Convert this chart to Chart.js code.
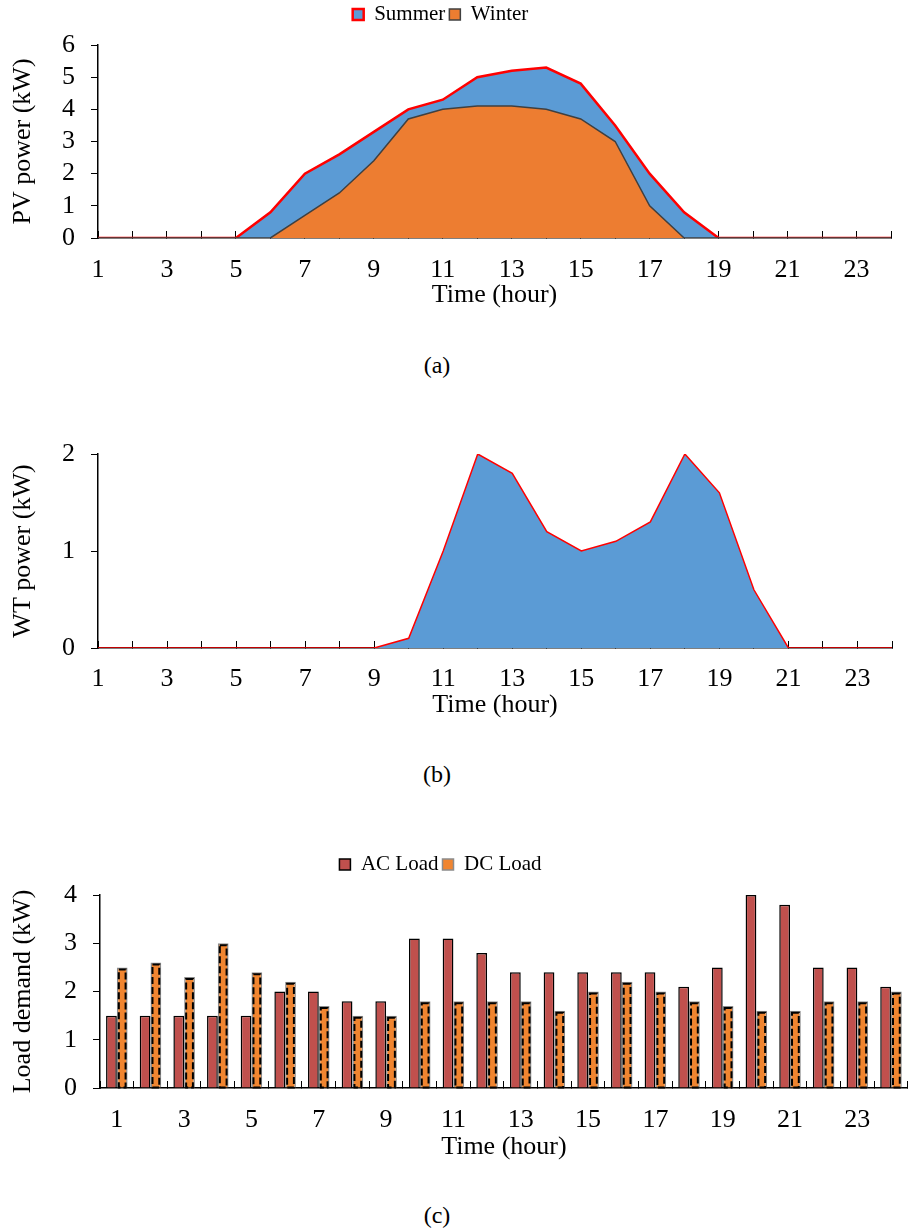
<!DOCTYPE html>
<html>
<head>
<meta charset="utf-8">
<script src="https://cdn.jsdelivr.net/npm/chart.js@4.4.1/dist/chart.umd.min.js"></script>
<style>
  body { margin: 0; background: #fff; }
  #page { position: relative; width: 915px; height: 1231px; overflow: hidden; }
  .box { position: absolute; left: 0; width: 915px; }
  .cap { position: absolute; font: 24px "Liberation Serif"; transform: translate(-50%, -50%); }
</style>
</head>
<body>
<div id="page">
  <div class="box" style="top:0;height:320px"><canvas id="pv"></canvas></div>
  <div class="cap" style="left:437px;top:365px">(a)</div>
  <div class="box" style="top:420px;height:310px"><canvas id="wt"></canvas></div>
  <div class="cap" style="left:437px;top:774px">(b)</div>
  <div class="box" style="top:840px;height:335px"><canvas id="load"></canvas></div>
  <div class="cap" style="left:437px;top:1215px">(c)</div>
</div>
<script>
const hours = ['1','2','3','4','5','6','7','8','9','10','11','12','13','14','15','16','17','18','19','20','21','22','23','24']

const pvSummer = [0, 0, 0, 0, 0, 0.8, 2.0, 2.6, 3.3, 4.0, 4.3, 5.0, 5.2, 5.3, 4.8, 3.5, 2.0, 0.8, 0, 0, 0, 0, 0, 0]
const pvWinter = [0, 0, 0, 0, 0, 0, 0.7, 1.4, 2.4, 3.7, 4.0, 4.1, 4.1, 4.0, 3.7, 3.0, 1.0, 0, 0, 0, 0, 0, 0, 0]

const wtPower = [0, 0, 0, 0, 0, 0, 0, 0, 0, 0.1, 1.0, 2.0, 1.8, 1.2, 1.0, 1.1, 1.3, 2.0, 1.6, 0.6, 0, 0, 0, 0]

const acLoad = [1.5, 1.5, 1.5, 1.5, 1.5, 2.0, 2.0, 1.8, 1.8, 3.1, 3.1, 2.8, 2.4, 2.4, 2.4, 2.4, 2.4, 2.1, 2.5, 4.0, 3.8, 2.5, 2.5, 2.1]
const dcLoad = [2.5, 2.6, 2.3, 3.0, 2.4, 2.2, 1.7, 1.5, 1.5, 1.8, 1.8, 1.8, 1.8, 1.6, 2.0, 2.2, 2.0, 1.8, 1.7, 1.6, 1.6, 1.8, 1.8, 2.0]

Chart.defaults.font.family = '"Liberation Serif", serif'
Chart.defaults.color = '#000'

// x axis: labels on odd hours, short ticks pointing up into the plot
const xAxis = (height, tickPad, titlePad) => ({
    grid: { drawOnChartArea: false, color: '#000', tickLength: -7, lineWidth: 1 },
    border: { color: '#000', width: 1.5 },
    ticks: {
        autoSkip: false, maxRotation: 0, padding: tickPad,
        font: { size: 26 },
        callback: function (v, i) { return i % 2 === 0 ? this.getLabelForValue(v) : '' }
    },
    title: { display: true, text: 'Time (hour)', font: { size: 26 }, padding: { top: 0, bottom: titlePad } },
    afterFit: s => { s.height = height }
})

const yAxis = (max, title, width) => ({
    min: 0, max: max,
    grid: { drawOnChartArea: false, color: '#000', tickLength: 7 },
    border: { color: '#000', width: 1.5 },
    ticks: { stepSize: 1, autoSkip: false, padding: 16, font: { size: 26 } },
    title: { display: true, text: title, font: { size: 26 }, padding: { top: 8, bottom: 0 } },
    afterFit: s => { s.width = width }
})

// fixed legend block height and a small nudge to the left
const legendBox = (h, shift) => ({
    id: 'legendBox',
    beforeLayout(chart) {
        const lg = chart.legend
        if (!lg || lg._fixed) return
        const fit = lg.fit
        lg.fit = function () { fit.call(this); this.height = h }
        lg._fixed = true
    },
    afterLayout(chart) {
        chart.legend.left -= shift
        chart.legend.right -= shift
    }
})

const legendOpts = (pad) => ({
    position: 'top',
    labels: { boxWidth: 11, boxHeight: 11, padding: pad, font: { size: 21 }, color: '#000' }
})

new Chart(document.getElementById('pv'), {
    type: 'line',
    data: {
        labels: hours,
        datasets: [
            {
                label: 'Winter', data: pvWinter, fill: 'origin',
                backgroundColor: '#ED7D31', borderColor: '#404040', borderWidth: 1.5,
                pointRadius: 0, tension: 0
            },
            {
                label: 'Summer', data: pvSummer, fill: 'origin',
                backgroundColor: '#5B9BD5', borderColor: '#FF0000', borderWidth: 2.5,
                pointRadius: 0, tension: 0
            }
        ]
    },
    options: {
        responsive: true, maintainAspectRatio: false, animation: false,
        layout: { padding: { top: 0, right: 0, left: 0, bottom: 0 } },
        plugins: {
            legend: Object.assign(legendOpts(4), { reverse: true }),
            tooltip: { enabled: false }
        },
        scales: {
            x: xAxis(82, 24, 9),
            y: yAxis(6, 'PV power (kW)', 98)
        }
    },
    plugins: [legendBox(45, 17)]
})

new Chart(document.getElementById('wt'), {
    type: 'line',
    data: {
        labels: hours,
        datasets: [{
            label: 'WT', data: wtPower, fill: 'origin',
            backgroundColor: '#5B9BD5', borderColor: '#FF0000', borderWidth: 1.5,
            pointRadius: 0, tension: 0
        }]
    },
    options: {
        responsive: true, maintainAspectRatio: false, animation: false,
        layout: { padding: { top: 34, right: 0, left: 0, bottom: 0 } },
        plugins: { legend: { display: false }, tooltip: { enabled: false } },
        scales: {
            x: xAxis(82, 23, 9),
            y: yAxis(2, 'WT power (kW)', 98)
        }
    }
})

// dashed outline over the DC bars
const dashedBars = {
    id: 'dashedBars',
    afterDatasetDraw(chart, args) {
        if (args.index !== 1) return
        const ctx = chart.ctx
        ctx.save()
        ctx.strokeStyle = '#000'
        ctx.lineWidth = 2
        ctx.setLineDash([7, 3])
        args.meta.data.forEach(bar => {
            const p = bar.getProps(['x', 'y', 'base', 'width'], true)
            ctx.strokeRect(p.x - p.width / 2 + 2, p.y + 2, p.width - 4, p.base - p.y - 2)
        })
        ctx.restore()
    }
}

const loadX = xAxis(87, 24, 12)
loadX.grid.offset = true

new Chart(document.getElementById('load'), {
    type: 'bar',
    data: {
        labels: hours,
        datasets: [
            {
                label: 'AC Load', data: acLoad,
                backgroundColor: '#C0504D', borderColor: '#000', borderWidth: 1.5,
                categoryPercentage: 0.64, barPercentage: 1
            },
            {
                label: 'DC Load', data: dcLoad,
                backgroundColor: '#F08530', borderColor: '#8c8c8c', borderWidth: 1.5,
                categoryPercentage: 0.64, barPercentage: 1
            }
        ]
    },
    options: {
        responsive: true, maintainAspectRatio: false, animation: false,
        layout: { padding: { top: 10, right: 0, left: 0, bottom: 0 } },
        plugins: { legend: legendOpts(4), tooltip: { enabled: false } },
        scales: {
            x: loadX,
            y: yAxis(4, 'Load demand (kW)', 100)
        }
    },
    plugins: [legendBox(45, 17), dashedBars]
})
</script>
</body>
</html>
